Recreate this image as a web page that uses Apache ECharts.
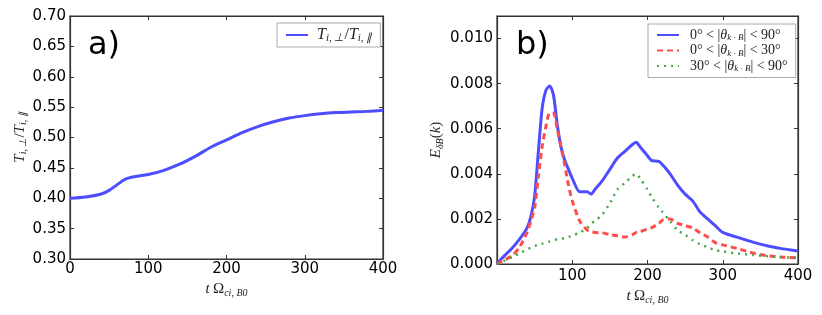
<!DOCTYPE html>
<html><head><meta charset="utf-8">
<script src="https://cdn.jsdelivr.net/npm/echarts@6/dist/echarts.min.js"></script>
<style>html,body{margin:0;padding:0;background:#fff}#c{width:822px;height:315px}</style>
</head><body><div id="c"></div>
<script>
// ---- Data ----
var leftT = [0,20,40,50,60,70,80,100,120,140,160,180,200,220,240,260,280,300,320,340,360,380,400];
var tempRatio = [0.400,0.402,0.407,0.413,0.422,0.431,0.435,0.439,0.446,0.456,0.469,0.484,0.496,0.508,0.518,0.526,0.532,0.536,0.539,0.541,0.542,0.543,0.545];

var rightT = [0,5,10,20,30,40,45,50,55,60,65,70,75,80,85,90,95,100,110,120,125,130,140,150,160,170,180,185,190,200,205,215,220,230,240,250,260,270,280,290,300,320,340,360,380,400];
var eAll = [0,0.0002,0.00037,0.0007,0.0011,0.0016,0.0021,0.0030,0.0050,0.0069,0.0077,0.0079,0.0075,0.0062,0.0052,0.0046,0.0042,0.0038,0.0032,0.0032,0.0031,0.0033,0.0037,0.0042,0.0047,0.0050,0.0053,0.0054,0.0052,0.0048,0.0046,0.00455,0.0044,0.0040,0.0035,0.0031,0.0028,0.0023,0.0020,0.0017,0.0014,0.00118,0.00097,0.0008,0.00067,0.00058];
var ePar = [0,0.0001,0.00018,0.00037,0.00075,0.0014,0.0019,0.0025,0.0039,0.0052,0.0061,0.0067,0.0067,0.0060,0.0052,0.0044,0.0035,0.0028,0.0019,0.0015,0.00145,0.0014,0.00138,0.0013,0.00125,0.0012,0.0013,0.0014,0.00143,0.00155,0.0016,0.0018,0.00195,0.0020,0.0018,0.0017,0.0016,0.00138,0.0012,0.00095,0.00085,0.00068,0.00049,0.00036,0.0003,0.00028];
var eObl = [0,0.00008,0.00015,0.0003,0.00048,0.00065,0.00072,0.0008,0.00086,0.0009,0.00095,0.001,0.00105,0.0011,0.00112,0.00115,0.0012,0.00125,0.0014,0.0016,0.0018,0.0019,0.0022,0.0027,0.0033,0.0036,0.0039,0.0040,0.0038,0.0033,0.003,0.0025,0.0023,0.0019,0.0015,0.0013,0.00106,0.00088,0.00074,0.00062,0.00056,0.00046,0.0004,0.00034,0.0003,0.00028];

var leftYTicks = {min:0.30, max:0.70, step:0.05};
var rightYTicks = {min:0.000, max:0.011, step:0.002};
var xTicks = {min:0, max:400, step:100};

function pairs(xs, ys){ return xs.map(function(x,i){ return [x, ys[i]]; }); }

var BLUE = 'rgb(77,77,255)', RED = 'rgb(255,77,77)', GREEN = 'rgb(77,166,77)';
var AX = '#333';
var SANS = 'DejaVu Sans';
var SERIF = 'Liberation Serif';

var mathRich = {
  m: {fontFamily: SERIF, fontStyle:'italic', fontSize: 15, color:'#222'},
  r: {fontFamily: SERIF, fontSize: 15, color:'#222'},
  s: {fontFamily: SERIF, fontStyle:'italic', fontSize: 10, color:'#222', padding:[7,0,0,0]},
  lm: {fontFamily: SERIF, fontStyle:'italic', fontSize: 14, color:'#222'},
  lm0: {fontFamily: SERIF, fontStyle:'italic', fontSize: 16, color:'#222', padding:[0,0,0,4]},
  lm1: {fontFamily: SERIF, fontStyle:'italic', fontSize: 16, color:'#222'},
  lr1: {fontFamily: SERIF, fontSize: 16, color:'#222'},
  ls1: {fontFamily: SERIF, fontStyle:'italic', fontSize: 11, color:'#222', padding:[7,0,0,0]},
  lr: {fontFamily: SERIF, fontSize: 14, color:'#222'},
  lr0: {fontFamily: SERIF, fontSize: 14, color:'#222', padding:[0,0,0,6]},
  ls: {fontFamily: SERIF, fontStyle:'italic', fontSize: 9, color:'#222', padding:[6,0,0,0]}
};

var tickStyle = {show:true, inside:true, length:4, lineStyle:{color:AX}};
var lineStyleAx = {show:true, onZero:false, lineStyle:{color:AX, width:1.2}};

function baseX(gi, showMin, margin, nameGap){
  return {
    type:'value', gridIndex: gi, position:'bottom', min: xTicks.min, max: xTicks.max, interval: xTicks.step,
    axisLine: lineStyleAx, axisTick: tickStyle, splitLine:{show:false},
    axisLabel:{show:true, margin: margin, showMinLabel: showMin, color:'#000', fontFamily:SANS, fontSize:15},
    name:'{m|t} {r|Ω}{s|ci, B0}', nameLocation:'middle', nameGap: nameGap,
    nameTextStyle:{rich: mathRich, verticalAlign:'top'}
  };
}
function topX(gi){
  return {show:true, type:'value', gridIndex: gi, position:'top', min: xTicks.min, max: xTicks.max, interval: xTicks.step,
    axisLine: lineStyleAx, axisTick: tickStyle,
    axisLabel:{show:false}, splitLine:{show:false}};
}
function rightY(gi, t){
  return {show:true, type:'value', gridIndex: gi, position:'right', min: t.min, max: t.max, interval: t.step,
    axisLine: lineStyleAx, axisTick: tickStyle,
    axisLabel:{show:false}, splitLine:{show:false}};
}

var chart = echarts.init(document.getElementById('c'), null, {renderer:'canvas'});
chart.setOption({
  animation:false,
  backgroundColor:'#fff',
  title:[
    {text:'a)', left:83, top:25, textStyle:{fontFamily:SANS, fontSize:32, fontWeight:'normal', color:'#000'}},
    {text:'b)', left:511, top:25, textStyle:{fontFamily:SANS, fontSize:32, fontWeight:'normal', color:'#000'}}
  ],
  grid:[
    {left:70, top:16, width:313, height:243, show:true, borderColor:AX, borderWidth:1.2, backgroundColor:'transparent'},
    {left:497, top:16, width:301, height:248, show:true, borderColor:AX, borderWidth:1.2, backgroundColor:'transparent'}
  ],
  xAxis:[ baseX(0, true, 3, 22), baseX(1, false, 5, 21), topX(0), topX(1) ],
  yAxis:[
    {type:'value', gridIndex:0, position:'left', min:leftYTicks.min, max:leftYTicks.max, interval:leftYTicks.step,
     axisLine: lineStyleAx, axisTick: tickStyle, splitLine:{show:false},
     axisLabel:{margin:4, color:'#000', fontFamily:SANS, fontSize:15, formatter:function(v){return v.toFixed(2);}},
     name:'{m|T}{s|i, ⊥}{r|/}{m|T}{s|i, ∥}', nameLocation:'middle', nameGap:41, nameRotate:90,
     nameTextStyle:{rich: mathRich}},
    {type:'value', gridIndex:1, position:'left', min:rightYTicks.min, max:rightYTicks.max, interval:rightYTicks.step,
     axisLine: lineStyleAx, axisTick: tickStyle, splitLine:{show:false},
     axisLabel:{margin:4, color:'#000', fontFamily:SANS, fontSize:15, showMaxLabel:false, formatter:function(v){return v.toFixed(3);}},
     name:'{m|E}{s|δB}{r|(}{m|k}{r|)}', nameLocation:'middle', nameGap:52, nameRotate:90,
     nameTextStyle:{rich: mathRich}},
    rightY(0, leftYTicks), rightY(1, rightYTicks)
  ],
  legend:[
    {data:['ratio'], left:277, top:23, orient:'vertical', padding:[4,8,3,8],
     itemWidth:22, itemHeight:10, borderColor:'#aaa', borderWidth:1, backgroundColor:'#fff', borderRadius:0,
     itemStyle:{opacity:0},
     formatter:function(){return '{lm0|T}{ls1|i, ⊥}{lr1|/}{lm1|T}{ls1|i, ∥}';},
     textStyle:{rich: mathRich}},
    {data:['all','par','obl'], left:648, top:24, orient:'vertical', padding:[4,8,4,8], itemGap:1,
     itemWidth:22, itemHeight:10, borderColor:'#aaa', borderWidth:1, backgroundColor:'#fff', borderRadius:0,
     itemStyle:{opacity:0},
     formatter:function(n){
       var a = n==='all' ? ['0°','90°'] : n==='par' ? ['0°','30°'] : ['30°','90°'];
       return '{lr0|'+a[0]+' < |}{lm|θ}{ls|k · B}{lr|| < '+a[1]+'}';
     },
     textStyle:{rich: mathRich}}
  ],
  series:[
    {name:'ratio', type:'line', xAxisIndex:0, yAxisIndex:0, data:pairs(leftT, tempRatio), smooth:0.3,
     symbol:'none', lineStyle:{color:BLUE, width:3}, itemStyle:{color:BLUE}},
    {name:'all', type:'line', xAxisIndex:1, yAxisIndex:1, data:pairs(rightT, eAll), smooth:0.25,
     symbol:'none', lineStyle:{color:BLUE, width:3}, itemStyle:{color:BLUE}},
    {name:'par', type:'line', xAxisIndex:1, yAxisIndex:1, data:pairs(rightT, ePar), smooth:0.25,
     symbol:'none', lineStyle:{color:RED, width:3, type:[6,4]}, itemStyle:{color:RED}},
    {name:'obl', type:'line', xAxisIndex:1, yAxisIndex:1, data:pairs(rightT, eObl), smooth:0.25,
     symbol:'none', lineStyle:{color:GREEN, width:2.5, type:[2,5]}, itemStyle:{color:GREEN}}
  ]
});
</script></body></html>
